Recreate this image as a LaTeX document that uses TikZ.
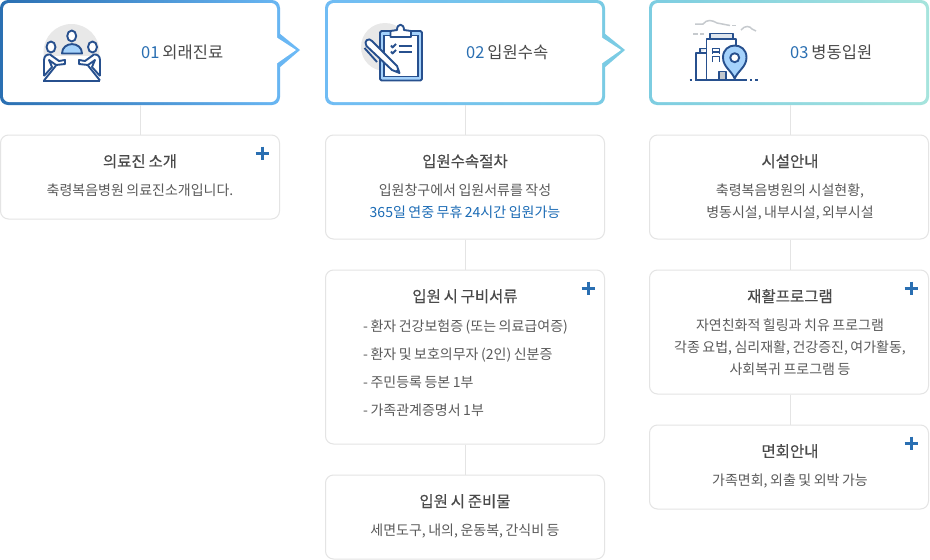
\documentclass[tikz,border=0pt]{standalone}
\usepackage{fontspec}
\setmainfont[WordSpace=0.8]{Noto Sans CJK KR}
\newfontfamily\titlefont[FakeBold=0.4, WordSpace=0.8]{Noto Sans CJK KR}
\usepackage{tikz}

\definecolor{numblue}{HTML}{2A6FB2}
\definecolor{head1a}{HTML}{2A6FB2}
\definecolor{head1b}{HTML}{6DBBF7}
\definecolor{head2a}{HTML}{70BCF4}
\definecolor{head2b}{HTML}{7BCCE3}
\definecolor{head3a}{HTML}{7DCDE1}
\definecolor{head3b}{HTML}{A6E4DD}
\definecolor{headtext}{HTML}{4A4A4A}
\definecolor{bodytext}{HTML}{5A5A5A}
\definecolor{linkblue}{HTML}{1B6BB5}
\definecolor{cardline}{HTML}{E4E4E4}
\definecolor{navy}{HTML}{27508E}
\definecolor{lightblue}{HTML}{A5D2FB}
\definecolor{iconback}{HTML}{E8E8E8}
\definecolor{cloudgray}{HTML}{C6CACE}
\definecolor{roofgray}{HTML}{DFE6EE}

\tikzset{
    headbox/.style={minimum width=280, minimum height=105, inner sep=0},
    card/.style={draw=cardline, line width=1, rounded corners=8, minimum width=279, inner sep=0},
    joint/.style={draw=cardline, line width=1},
    headtitle/.style={anchor=west, inner sep=0, text=headtext, font=\fontsize{16.5}{20}\selectfont, text height=12, text depth=3},
    cardtitle/.style={inner sep=0, text=headtext, font=\titlefont\fontsize{15.5}{18}\selectfont, text height=11, text depth=3},
    cardtext/.style={inner sep=0, text=bodytext, font=\fontsize{14}{17}\selectfont, text height=11, text depth=3},
    plusbar/.style={draw=numblue, line width=3},
    icon/.style={draw=navy, line width=1.9, line join=round}
}

\begin{document}
\begin{tikzpicture}[x=1pt, y=-1pt]

        \useasboundingbox (0,0) rectangle (930,560);
        \fill[white] (0,0) rectangle (930,560);

        % 01 head
        \shade[left color=head1a, right color=head1b, rounded corners=8] (0,0) rectangle (280,105) [sharp corners] (279,68) -- (300,50) -- (279,33) -- cycle;
        \fill[white, rounded corners=6] (3,3) rectangle (277,102) [sharp corners] (276,64) -- (296,50) -- (276,37) -- cycle;
        \node[headbox] (head1) at (140,52.5) {};
        \node[headtitle] (title1) at (141,54) {\textcolor{numblue}{01} 외래진료};

        % 02 head
        \shade[left color=head2a, right color=head2b, rounded corners=8] (325,0) rectangle (605,105) [sharp corners] (604,68) -- (625,50) -- (604,33) -- cycle;
        \fill[white, rounded corners=6] (328,3) rectangle (602,102) [sharp corners] (601,64) -- (621,50) -- (601,37) -- cycle;
        \node[headbox] (head2) at (465,52.5) {};
        \node[headtitle] (title2) at (466,54) {\textcolor{numblue}{02} 입원수속};

        % 03 head
        \shade[left color=head3a, right color=head3b, rounded corners=8] (649,0) rectangle (929,105);
        \fill[white, rounded corners=6] (652,3) rectangle (926,102);
        \node[headbox] (head3) at (790,52.5) {};
        \node[headtitle] (title3) at (790,54) {\textcolor{numblue}{03} 병동입원};

        % Meeting icon
        \fill[iconback] (71.5,52) circle (28);
        \fill[white] (43,56) rectangle (100,81);
        \draw[icon, fill=lightblue] (62,53.5) .. controls (62,41) and (82,41) .. (82,53.5) -- cycle;
        \draw[icon, fill=white] (71.7,36) ellipse (4.5 and 5.5);
        \draw[icon, fill=white] (51,47) ellipse (4.5 and 5.5);
        \draw[icon, fill=white] (92.5,47) ellipse (4.5 and 5.5);
        \draw[icon, fill=white] (44,76) -- (44,60) .. controls (44,56) and (47,54) .. (50,54.5) -- (59,61) -- (65,60) -- (65,64) -- (56,65) -- (49,60) -- (52,67) -- (44,76);
        \draw[icon, fill=white] (100,76) -- (100,60) .. controls (100,56) and (97,54) .. (94,54.5) -- (85,61) -- (79,60) -- (79,64) -- (88,65) -- (95,60) -- (92,67) -- (100,76);
        \draw[icon] (44,80.5) -- (56,65.5);
        \draw[icon] (100,80.5) -- (88,65.5);
        \draw[navy, line width=2] (43,80.5) -- (100,80.5);

        % Clipboard icon
        \fill[iconback] (385,47) circle (24);
        \draw[icon, fill=lightblue, rounded corners=1.5] (380,31) rectangle (422,80.5);
        \fill[white] (384,35.5) rectangle (418,76.5);
        \draw[navy, line width=1.2] (384,35.5) rectangle (418,76.5);
        \draw[icon, fill=white] (390.5,37) -- (390.5,31) -- (397,30) .. controls (397,23) and (404,23) .. (404,30) -- (411,31) -- (411,37) -- cycle;
        \draw[icon] (391,45.5) -- (392.5,47.5) -- (396,44);
        \draw[icon] (391,51.5) -- (392.5,53.5) -- (396,50);
        \draw[icon] (398.5,45.7) -- (412,45.7);
        \draw[icon] (398.5,51.7) -- (412,51.7);
        \draw[icon, fill=white] (366.5,46) .. controls (363,41) and (369,37) .. (372,41) -- (397,66) -- (399.5,73) -- (392,70) -- cycle;
        \draw[icon] (364.5,48) -- (377,62);
        \fill[navy] (399.5,73) -- (395,71.5) -- (398,68.5) -- cycle;

        % Building icon
        \draw[cloudgray, line width=1.5] (695,24) -- (703,24) .. controls (707,19) and (712,20) .. (717,23) -- (730,25.5);
        \draw[cloudgray, line width=1.5] (732,25.5) -- (736,25.5);
        \draw[cloudgray, line width=1.5] (741,30) .. controls (745,25) and (750,26) .. (752,29) -- (756,31);
        \draw[cloudgray, line width=1.5] (693,34) -- (698,34);
        \draw[cloudgray, line width=1.5] (700,34) -- (704,34);
        \draw[icon, fill=roofgray] (710,39) -- (710,33.5) -- (733,33.5) -- (733,39);
        \draw[icon, fill=roofgray] (700,53) -- (700,48.5) -- (706.5,48.5);
        \draw[icon, fill=white] (696,80) -- (696,53) -- (706.5,53);
        \draw[icon, fill=white] (706.5,80) -- (706.5,39) -- (736,39) -- (736,50);
        \draw[icon] (712.5,54) -- (712.5,48.5) -- (719.5,48.5) -- (719.5,54);
        \draw[icon] (712.5,52) -- (719.5,52);
        \draw[icon] (712.5,62) -- (712.5,56.5) -- (719.5,56.5) -- (719.5,62);
        \draw[icon, fill=roofgray!70!gray] (719,80) -- (719,71.5) -- (726,71.5) -- (726,80);
        \draw[icon, fill=lightblue] (734.7,78.7) .. controls (732,71) and (723,67) .. (723,57.5) .. controls (723,41.5) and (746.5,41.5) .. (746.5,57.5) .. controls (746.5,67) and (737.5,71) .. (734.7,78.7) -- cycle;
        \draw[icon, fill=white] (734.7,57.7) circle (4.5);
        \draw[navy, line width=2] (695,80) -- (747,80);
        \draw[navy, line width=2] (689.5,80) -- (692,80);
        \draw[navy, line width=2] (750,80) -- (752,80);
        \draw[navy, line width=2] (755,80) -- (758,80);

        % Cards
        \node[card, minimum height=84] (visit1) at (140,177) {};

        \node[card, minimum height=104] (admit1) at (465,187) {};
        \node[card, minimum height=174] (admit2) at (465,357) {};
        \node[card, minimum height=84] (admit3) at (465,517) {};

        \node[card, minimum height=104] (ward1) at (789,187) {};
        \node[card, minimum height=124] (ward2) at (789,332) {};
        \node[card, minimum height=84] (ward3) at (789,467) {};

        % Joints
        \draw[joint] (head1.south) -- (visit1.north);
        \draw[joint] (head2.south) -- (admit1.north);
        \draw[joint] (admit1.south) -- (admit2.north);
        \draw[joint] (admit2.south) -- (admit3.north);
        \draw[joint] (head3.south) -- (head3.south |- ward1.north);
        \draw[joint] (ward1.south) ++(1,0) -- ([xshift=1]ward2.north);
        \draw[joint] (ward2.south) ++(1,0) -- ([xshift=1]ward3.north);

        % Plus marks
        \foreach \plusx/\plusy in {262/153, 588/288, 911/288, 911/443} {
            \draw[plusbar] (\plusx-6.5,\plusy) -- (\plusx+6.5,\plusy);
            \draw[plusbar] (\plusx,\plusy-6.5) -- (\plusx,\plusy+6.5);
        }

        % 01 text
        \node[cardtitle] (visit1head) at (140,163) {의료진 소개};
        \node[cardtext] (visit1body) at (140,191.5) {축령복음병원 의료진소개입니다.};

        % 02 text
        \node[cardtitle] (admit1head) at (465,163) {입원수속절차};
        \node[cardtext] (admit1body) at (465,191.5) {입원창구에서 입원서류를 작성};
        \node[cardtext, text=linkblue] (admit1note) at (465,213.5) {365일 연중 무휴 24시간 입원가능};

        \node[cardtitle] (admit2head) at (465,298) {입원 시 구비서류};
        \node[cardtext, anchor=west] (admit2a) at (363,327.5) {- 환자 건강보험증 (또는 의료급여증)};
        \node[cardtext, anchor=west] (admit2b) at (363,355.5) {- 환자 및 보호의무자 (2인) 신분증};
        \node[cardtext, anchor=west] (admit2c) at (363,383.5) {- 주민등록 등본 1부};
        \node[cardtext, anchor=west] (admit2d) at (363,411.5) {- 가족관계증명서 1부};

        \node[cardtitle] (admit3head) at (465,503) {입원 시 준비물};
        \node[cardtext] (admit3body) at (465,531.5) {세면도구, 내의, 운동복, 간식비 등};

        % 03 text
        \node[cardtitle] (ward1head) at (790,163) {시설안내};
        \node[cardtext] (ward1a) at (790,191.5) {축령복음병원의 시설현황,};
        \node[cardtext] (ward1b) at (790,213.5) {병동시설, 내부시설, 외부시설};

        \node[cardtitle] (ward2head) at (790,298) {재활프로그램};
        \node[cardtext] (ward2a) at (790,326.5) {자연친화적 힐링과 치유 프로그램};
        \node[cardtext] (ward2b) at (790,348.5) {각종 요법, 심리재활, 건강증진, 여가활동,};
        \node[cardtext] (ward2c) at (790,370.5) {사회복귀 프로그램 등};

        \node[cardtitle] (ward3head) at (790,453) {면회안내};
        \node[cardtext] (ward3body) at (790,481.5) {가족면회, 외출 및 외박 가능};

    \end{tikzpicture}
\end{document}
